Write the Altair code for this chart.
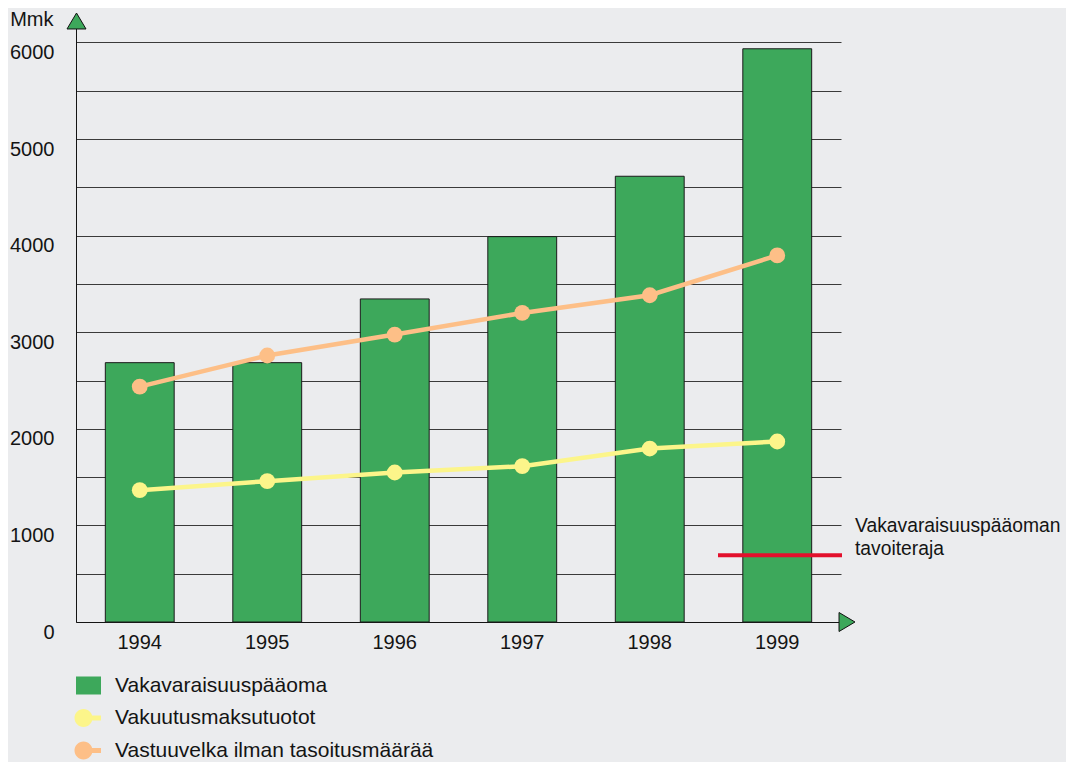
import altair as alt
import pandas as pd

# ---- data ----
years = ["1994", "1995", "1996", "1997", "1998", "1999"]
vakavaraisuus = [2685, 2685, 3345, 3990, 4615, 5935]
maksutuotot = [1365, 1458, 1548, 1613, 1796, 1869]
vastuuvelka = [2437, 2759, 2976, 3200, 3383, 3795]
tavoiteraja = [690]

series_names = ["Vakavaraisuuspääoma", "Vakuutusmaksutuotot", "Vastuuvelka ilman tasoitusmäärää"]
series_colors = ["#3DA85B", "#FCF58A", "#FDBF87"]
target_label = ["Vakavaraisuuspääoman", "tavoiteraja"]
y_grid_values = list(range(0, 6001, 500))
y_title = "Mmk"

FONT = "Liberation Sans"
TXT = "#141414"
BG = "#EBECEE"

bars_df = pd.DataFrame({"year": years, "value": vakavaraisuus, "series": series_names[0]})
lines_df = pd.concat([
    pd.DataFrame({"year": years, "value": maksutuotot, "series": series_names[1]}),
    pd.DataFrame({"year": years, "value": vastuuvelka, "series": series_names[2]}),
], ignore_index=True)
legend_df = pd.DataFrame({"year": years[0], "value": 0, "series": series_names})
target_df = pd.DataFrame({"value": tavoiteraja})
deco_df = pd.DataFrame({"a": [0]})

x_enc = alt.X(
    "year:N",
    scale=alt.Scale(paddingInner=0.46, paddingOuter=0.23),
    axis=alt.Axis(title=None, labelAngle=0, ticks=False, labelPadding=10, labelBaseline="top",
                  labelFontSize=20, labelFont=FONT, labelColor=TXT, domainColor=TXT,
                  domainWidth=1, grid=False),
)
y_scale = alt.Scale(domain=[0, 6150], nice=False, zero=True)
y_axis = alt.Axis(
    values=y_grid_values, format="d",
    labelExpr="datum.value % 1000 == 0 ? datum.label : ''",
    ticks=False, labelPadding=22, labelOffset=10, labelFontSize=20, labelFont=FONT,
    labelColor=TXT, domainColor=TXT, domainWidth=1,
    grid=True, gridColor="#3a3a3a", gridWidth=1, gridOpacity=1,
    title=y_title, titleAngle=0, titleAlign="right", titleBaseline="middle",
    titleX=-23, titleY=-9, titleFont=FONT, titleFontSize=20, titleFontWeight="normal",
    titleColor=TXT,
)

square_path = "M-1,-0.72H1V0.72H-1Z"
stub_path = "M-1.12,0A0.72,0.72,0,1,1,0.32,0A0.72,0.72,0,1,1,-1.12,0ZM0.25,-0.2H1V0.2H0.25Z"

color_scale = alt.Scale(domain=series_names, range=series_colors)
shape_scale = alt.Scale(domain=series_names, range=[square_path, stub_path, stub_path])
legend = alt.Legend(
    title=None, orient="none", legendX=0, legendY=645, direction="vertical",
    labelFont=FONT, labelFontSize=21, labelColor=TXT, labelOffset=14, labelLimit=0,
    symbolSize=625, rowPadding=9.5, padding=0, symbolStrokeWidth=0, symbolOpacity=1,
)

bars = alt.Chart(bars_df).mark_bar(stroke="#1a1a1a", strokeWidth=1).encode(
    x=x_enc,
    y=alt.Y("value:Q", scale=y_scale, axis=y_axis),
    color=alt.Color("series:N", scale=color_scale, legend=legend),
)

legend_layer = alt.Chart(legend_df).mark_point(filled=True, opacity=0, size=0).encode(
    x=x_enc,
    y=alt.Y("value:Q", scale=y_scale, axis=y_axis),
    color=alt.Color("series:N", scale=color_scale, legend=legend),
    shape=alt.Shape("series:N", scale=shape_scale, legend=legend),
)

lines = alt.Chart(lines_df).mark_line(strokeWidth=4.5).encode(
    x=x_enc,
    y=alt.Y("value:Q", scale=y_scale, axis=y_axis),
    color=alt.Color("series:N", scale=color_scale, legend=None),
    detail="series:N",
)

points = alt.Chart(lines_df).mark_circle(size=250, opacity=1).encode(
    x=x_enc,
    y=alt.Y("value:Q", scale=y_scale, axis=y_axis),
    color=alt.Color("series:N", scale=color_scale, legend=None),
)

rule = alt.Chart(target_df).mark_rule(color="#E3102C", strokeWidth=4).encode(
    y=alt.Y("value:Q", scale=y_scale, axis=y_axis),
    x=alt.value(642), x2=alt.value(766),
)

rule_text = alt.Chart(target_df).mark_text(
    text=target_label, align="left", baseline="alphabetic", dy=-23, lineHeight=23,
    fontSize=19.3, font=FONT, color=TXT,
).encode(
    y=alt.Y("value:Q", scale=y_scale, axis=y_axis),
    x=alt.value(779),
)

tri_up = alt.Chart(deco_df).mark_point(
    shape="M-1,0.84L0,-0.84L1,0.84Z", size=361, filled=True, fill="#3DA85B",
    stroke="#111", strokeWidth=1, opacity=1,
).encode(x=alt.value(0.5), y=alt.value(-7))

tri_right = alt.Chart(deco_df).mark_point(
    shape="M-0.84,-1L0.84,0L-0.84,1Z", size=361, filled=True, fill="#3DA85B",
    stroke="#111", strokeWidth=1, opacity=1,
).encode(x=alt.value(771), y=alt.value(594))

chart = alt.layer(bars, legend_layer, rule, lines, points, rule_text, tri_up, tri_right).properties(
    width=765, height=594,
    autosize=alt.AutoSizeParams(type="none"),
    padding={"left": 68, "top": 20, "right": 225, "bottom": 140},
    background=BG,
).configure_view(stroke=None)

chart.save("out.html", embed_options={"renderer": "svg", "actions": False})
